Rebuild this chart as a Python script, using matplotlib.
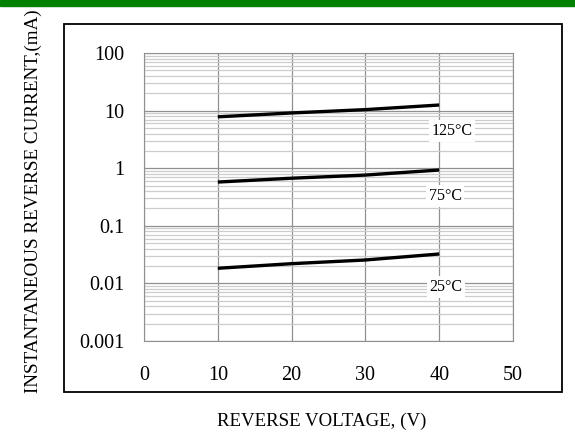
import numpy as np
import matplotlib.pyplot as plt
from matplotlib.patches import Rectangle

plt.rcParams['font.family'] = ['Liberation Serif', 'DejaVu Serif']

# reverse voltage (V) and current (mA)
volts = [10, 20, 30, 40]
i_125 = [7.8, 9.1, 10.4, 12.5]
i_75 = [0.575, 0.67, 0.76, 0.93]
i_25 = [0.0183, 0.022, 0.0255, 0.0324]

curves = [(i_125, "125°C"), (i_75, "75°C"), (i_25, "25°C")]
label_pos = [(41.7, 4.4), (40.8, 0.33), (40.9, 0.0087)]

fig = plt.figure(figsize=(5.75, 4.36), dpi=100)
ax = fig.add_axes([144 / 575, 1 - 341 / 436, 369 / 575, 288 / 436])

# green bar at the top and the outer frame
fig.patches.append(Rectangle((0, 1 - 6 / 436), 1, 6 / 436, transform=fig.transFigure,
                             color='#008000', zorder=0))
fig.patches.append(Rectangle((64 / 575, 1 - 392 / 436), 498 / 575, 368 / 436,
                             transform=fig.transFigure, fill=False,
                             edgecolor='black', linewidth=1.3, zorder=0))

for vals, name in curves:
    ax.plot(volts, vals, color='black', linewidth=2.4, solid_capstyle='butt', zorder=3)

for (vals, name), (lx, ly) in zip(curves, label_pos):
    ax.text(lx, ly, name, fontsize=11.5, ha='center', va='center', zorder=4,
            bbox=dict(facecolor='white', edgecolor='none', pad=2))

ax.set_yscale('log')
ax.set_xlim(0, 50)
ax.set_ylim(0.001, 100)
ax.set_xticks([0, 10, 20, 30, 40, 50])
ax.set_yticks([0.001, 0.01, 0.1, 1, 10, 100])
ax.set_yticklabels(['0.001', '0.01', '0.1', '1', '10', '100'])
ax.tick_params(axis='both', which='both', length=0, labelsize=14.5)
ax.tick_params(axis='x', pad=18)
ax.tick_params(axis='y', pad=14)
ax.grid(True, which='major', color='#909090', linewidth=0.9)
ax.grid(True, which='minor', axis='y', color='#cccccc', linewidth=0.9)
for s in ax.spines.values():
    s.set_color('#909090')

fig.text(322 / 575, 1 - 421 / 436, "REVERSE VOLTAGE, (V)", fontsize=13.6,
         ha='center', va='center')
fig.text(33 / 575, 1 - 201 / 436, "INSTANTANEOUS REVERSE CURRENT,(mA)", fontsize=13.8,
         ha='center', va='center', rotation=90)

fig.savefig('out.png', dpi=100)
